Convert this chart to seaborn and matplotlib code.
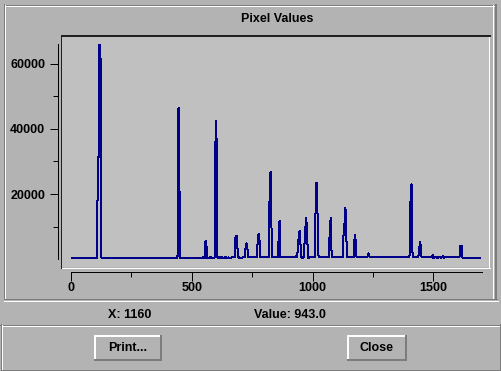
import matplotlib
matplotlib.use("Agg")
import matplotlib.pyplot as plt
import seaborn as sns
from matplotlib.patches import Rectangle

# spectrum: (channel, pixel value) vertices of the trace
chan = [4, 7, 9, 108, 111, 115, 117, 122, 124, 127,
        438, 441, 443, 448, 450, 453,
        544, 547, 549, 554, 556, 560, 563, 570, 580, 585,
        594, 596, 599, 603, 606, 610, 615, 618, 625, 630, 640, 645, 652, 658,
        670, 678, 681, 686, 689, 692, 700, 712, 720, 723, 727, 731, 734,
        770, 773, 777, 781, 784, 820, 822, 826, 829, 832, 858, 860, 865, 867,
        930, 933, 936, 944, 948, 951, 954, 958, 964, 969, 974, 978, 981, 986, 990,
        1008, 1011, 1015, 1019, 1022, 1025, 1068, 1071, 1075, 1078, 1081,
        1126, 1129, 1133, 1136, 1140, 1143, 1170, 1172, 1176, 1179, 1182,
        1226, 1229, 1231, 1234, 1237,
        1400, 1403, 1406, 1410, 1413, 1416, 1438, 1441, 1445, 1448, 1451,
        1495, 1497, 1500, 1510, 1520, 1525, 1530, 1540, 1545, 1555, 1560,
        1608, 1611, 1617, 1620, 1625, 1693]
value = [350, 0, 350, 350, 31500, 31500, 65800, 65800, 900, 350,
         350, 1100, 46000, 46300, 1200, 350,
         350, 830, 350, 400, 5400, 5600, 500, 450, 700, 450,
         500, 20400, 42500, 35900, 700, 400, 800, 400, 650, 350, 700, 350, 600, 350,
         700, 800, 6950, 7170, 3400, 700, 400, 600, 600, 4100, 4930, 2900, 600,
         600, 6460, 7780, 5200, 600, 600, 21560, 26770, 13900, 600, 600, 11450, 11700, 600,
         600, 1100, 600, 8200, 8700, 2400, 600, 400, 800, 8700, 12680, 6350, 600, 400, 700,
         700, 10000, 23500, 23100, 2900, 700, 700, 9700, 12680, 2900, 700,
         700, 10840, 11150, 15740, 6150, 700, 700, 5100, 7470, 4900, 700,
         700, 1300, 1870, 1000, 700,
         800, 1500, 22790, 23000, 2400, 800, 800, 3200, 5240, 4200, 800,
         800, 1300, 500, 800, 400, 800, 500, 900, 500, 800, 600,
         600, 4100, 4100, 700, 300, 300]

xticks = [0, 500, 1000, 1500]
xminor = [250, 750, 1250]
yticks = [20000, 40000, 60000]
yminor = [10000, 30000, 50000]

title = "Pixel Values"
status_x = "X: 1160"
status_val = "Value: 943.0"
buttons = ["Print...", "Close"]

W, H = 502, 371
BG = "#b3b3b3"
PLOT_BG = "#c0c0c0"
DARK = "#7c7c7c"
LIGHT = "#ffffff"
LINE = "#00008b"
PX = 0.72  # one pixel in points

plt.rcParams['font.family'] = ['Liberation Sans', 'DejaVu Sans']
plt.rcParams['font.weight'] = 'bold'
# old X11 look: no smoothing
plt.rcParams['lines.antialiased'] = False
plt.rcParams['patch.antialiased'] = False

fig = plt.figure(figsize=(W / 100, H / 100), dpi=100, facecolor=BG)

# widget background drawn in pixel coordinates
bg = fig.add_axes([0, 0, 1, 1], zorder=0)
bg.set_xlim(0, W)
bg.set_ylim(H, 0)
bg.axis('off')


def hline(y, x0, x1, c, w=1):
    bg.plot([x0, x1 + 1], [y + w / 2, y + w / 2], color=c, lw=w * PX, solid_capstyle='butt')


def vline(x, y0, y1, c, w=1):
    bg.plot([x + w / 2, x + w / 2], [y0, y1 + 1], color=c, lw=w * PX, solid_capstyle='butt')


# etched frame around the plot panel
hline(4, 4, 495, DARK)
vline(4, 4, 298, DARK)
hline(5, 5, 493, LIGHT)
vline(5, 5, 298, LIGHT)
vline(493, 5, 298, LIGHT)
vline(495, 4, 299, DARK, 2)
hline(298, 4, 496, DARK, 1)
hline(300, 4, 497, LIGHT)

# sunken plotting area
bg.add_patch(Rectangle((62, 35), 428, 232, facecolor=PLOT_BG, edgecolor='none'))
hline(35, 61, 490, "#202020", 2)
vline(61, 35, 267, "#202020", 1)
vline(489, 37, 267, LIGHT)
hline(267, 62, 489, LIGHT)

# button strip
hline(324, 0, 501, DARK)
hline(325, 1, 500, LIGHT)
vline(1, 324, 369, DARK)
vline(2, 325, 368, LIGHT)
vline(500, 324, 369, DARK)
hline(369, 1, 500, DARK)

for (x0, x1), label in zip([(94, 161), (347, 406)], buttons):
    hline(335, x0, x1, LIGHT, 2)
    vline(x0, 335, 360, LIGHT, 2)
    hline(359, x0, x1, DARK, 2)
    vline(x1 - 1, 335, 360, DARK, 2)
    bg.text((x0 + x1 + 1) / 2, 348, label, ha='center', va='center', fontsize=9, weight='bold')

bg.text(277, 19.5, title, ha='center', va='center', fontsize=9, weight='bold')
bg.text(108, 314.5, status_x, ha='left', va='center', fontsize=9, weight='bold')
bg.text(254, 314.5, status_val, ha='left', va='center', fontsize=9, weight='bold')

# the plot itself
ax = fig.add_axes([71 / W, (H - 259.4) / H, 410.7 / W, 215.4 / H], zorder=1)
ax.patch.set_alpha(0)
sns.lineplot(x=chan, y=value, sort=False, estimator=None, color=LINE, linewidth=PX, ax=ax)
ax.set_xlim(0, 1700)
ax.set_ylim(0, 66000)
ax.set_xlabel('')
ax.set_ylabel('')

for s in ['top', 'right']:
    ax.spines[s].set_visible(False)
ax.spines['left'].set_position(('outward', 9.1))
ax.spines['bottom'].set_position(('outward', 9.1))
for s in ['left', 'bottom']:
    ax.spines[s].set_linewidth(PX)
    ax.spines[s].set_color('black')
    ax.spines[s].set_antialiased(False)

ax.set_xticks(xticks)
ax.set_xticklabels([str(v) for v in xticks])
ax.set_xticks(xminor, minor=True)
ax.set_yticks(yticks)
ax.set_yticklabels([str(v) for v in yticks])
ax.set_yticks(yminor, minor=True)
ax.tick_params(axis='y', which='major', length=5.8, width=PX, pad=3.6, labelsize=9)
ax.tick_params(axis='y', which='minor', length=3.6, width=PX)
ax.tick_params(axis='x', which='major', length=6.4, width=PX, pad=0.8, labelsize=9)
ax.tick_params(axis='x', which='minor', length=3.6, width=PX)
for lab in ax.get_xticklabels() + ax.get_yticklabels():
    lab.set_fontweight('bold')

fig.savefig("out.png", dpi=100, facecolor=BG)
